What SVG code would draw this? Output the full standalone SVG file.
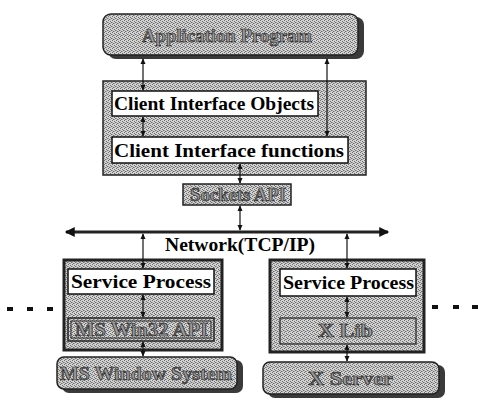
<svg xmlns="http://www.w3.org/2000/svg" width="478" height="405" viewBox="0 0 478 405">
<defs>
<pattern id="dith" width="4" height="4" patternUnits="userSpaceOnUse">
<rect width="4" height="4" fill="#d2d2d2"/>
<rect x="0" y="0" width="1" height="1" fill="#6e6e6e"/>
<rect x="2" y="1" width="1" height="1" fill="#6e6e6e"/>
<rect x="1" y="3" width="1" height="1" fill="#6e6e6e"/>
<rect x="3" y="2" width="1" height="1" fill="#6e6e6e"/>
<rect x="2" y="3" width="1" height="1" fill="#a0a0a0"/>
<rect x="0" y="2" width="1" height="1" fill="#a0a0a0"/>
</pattern>
<marker id="ah" viewBox="0 0 8 8" refX="7" refY="4" markerWidth="6" markerHeight="6" orient="auto-start-reverse" markerUnits="userSpaceOnUse">
<path d="M0,0.5 L8,4 L0,7.5 Z" fill="#111"/>
</marker>
<marker id="ahb" viewBox="0 0 8 8" refX="7" refY="4" markerWidth="12" markerHeight="10" orient="auto-start-reverse" markerUnits="userSpaceOnUse">
<path d="M0,0 L8,4 L0,8 Z" fill="#111"/>
</marker>
</defs>
<style>
.outer{fill:url(#dith);stroke:#222;stroke-width:1.5}
.svc{fill:url(#dith);stroke:#222;stroke-width:3}
.white{fill:#fff;stroke:#111;stroke-width:1.5}
.shadow{fill:#3a3a3a}
.rbox{fill:url(#dith);stroke:#222;stroke-width:1.5}
.t{font-family:"Liberation Serif","Times New Roman",serif;font-weight:bold;fill:#000}
.e{font-family:"Liberation Serif","Times New Roman",serif;font-weight:bold;fill:#9a9a9a;stroke:#2a2a2a;stroke-width:0.7}
.c{fill:none;stroke:#111;stroke-width:1.2;marker-start:url(#ah);marker-end:url(#ah)}
.net{fill:none;stroke:#222;stroke-width:3;marker-start:url(#ahb);marker-end:url(#ahb)}
.dot{fill:#111}
</style>

<g id="app">
<rect x="108" y="17" width="256" height="42" rx="8" class="shadow"/>
<rect x="103" y="14" width="255" height="41" rx="8" class="rbox"/>
<text x="142" y="42" font-size="19" textLength="170" lengthAdjust="spacingAndGlyphs" class="e">Application Program</text>
</g>

<g id="client">
<rect x="103" y="81" width="263" height="94" class="outer"/>
<g id="cio">
<rect x="112" y="91" width="206" height="25" class="white"/>
<text x="114" y="110" font-size="19.5" textLength="200" lengthAdjust="spacingAndGlyphs" class="t">Client Interface Objects</text>
</g>
<g id="cif">
<rect x="112" y="137" width="236" height="26" class="white"/>
<text x="114" y="157" font-size="19.5" textLength="230" lengthAdjust="spacingAndGlyphs" class="t">Client Interface functions</text>
</g>
</g>

<g id="sockets">
<rect x="183" y="184" width="108" height="21" class="outer"/>
<text x="190" y="201" font-size="18" textLength="96" lengthAdjust="spacingAndGlyphs" class="e">Sockets API</text>
</g>

<g id="network">
<text x="165" y="251" font-size="19" textLength="150" lengthAdjust="spacingAndGlyphs" class="t">Network(TCP/IP)</text>
</g>

<g id="svc-left">
<rect x="64" y="260" width="158" height="90" class="svc"/>
<g id="sp-left">
<rect x="68" y="269" width="146" height="25" class="white"/>
<text x="71" y="288" font-size="19.5" textLength="140" lengthAdjust="spacingAndGlyphs" class="t">Service Process</text>
</g>
<g id="win32">
<rect x="68" y="318" width="146" height="23" fill="url(#dith)" stroke="#222" stroke-width="1.5"/>
<rect x="71" y="321" width="140" height="17" fill="none" stroke="#222" stroke-width="1"/>
<text x="75" y="336" font-size="18" textLength="133" lengthAdjust="spacingAndGlyphs" class="e">MS Win32 API</text>
</g>
</g>

<g id="mswin">
<rect x="62" y="360" width="181" height="33" rx="7" class="shadow"/>
<rect x="57" y="357" width="180" height="32" rx="7" class="rbox"/>
<text x="60" y="380" font-size="19" textLength="172" lengthAdjust="spacingAndGlyphs" class="e">MS Window System</text>
</g>

<g id="svc-right">
<rect x="270" y="260" width="154" height="92" class="svc"/>
<g id="sp-right">
<rect x="280" y="269" width="136" height="27" class="white"/>
<text x="283" y="289" font-size="19.5" textLength="131" lengthAdjust="spacingAndGlyphs" class="t">Service Process</text>
</g>
<g id="xlib">
<rect x="280" y="318" width="136" height="26" fill="url(#dith)" stroke="#222" stroke-width="1.2"/>
<text x="318" y="337" font-size="18" textLength="55" lengthAdjust="spacingAndGlyphs" class="e">X Lib</text>
</g>
</g>

<g id="xserver">
<rect x="268" y="365" width="177" height="33" rx="7" class="shadow"/>
<rect x="263" y="362" width="176" height="32" rx="7" class="rbox"/>
<text x="308" y="385" font-size="19" textLength="85" lengthAdjust="spacingAndGlyphs" class="e">X Server</text>
</g>

<g id="dots">
<rect x="7" y="307" width="6" height="4" class="dot"/>
<rect x="27" y="307" width="6" height="4" class="dot"/>
<rect x="47" y="307" width="6" height="4" class="dot"/>
<rect x="432" y="305" width="6" height="4" class="dot"/>
<rect x="453" y="305" width="6" height="4" class="dot"/>
<rect x="472" y="305" width="6" height="4" class="dot"/>
</g>

<g id="connectors">
<line x1="143" y1="59" x2="143" y2="90" class="c"/>
<line x1="327" y1="59" x2="327" y2="136" class="c"/>
<line x1="143" y1="117" x2="143" y2="136" class="c"/>
<line x1="240" y1="164" x2="240" y2="183" class="c"/>
<line x1="240" y1="206" x2="240" y2="230" class="c"/>
<line x1="66" y1="232" x2="388" y2="232" class="net"/>
<line x1="143" y1="234" x2="143" y2="268" class="c"/>
<line x1="347" y1="234" x2="347" y2="268" class="c"/>
<line x1="143" y1="295" x2="143" y2="317" class="c"/>
<line x1="347" y1="297" x2="347" y2="317" class="c"/>
<line x1="143" y1="342" x2="143" y2="356" class="c"/>
<line x1="347" y1="345" x2="347" y2="361" class="c"/>
</g>
</svg>
